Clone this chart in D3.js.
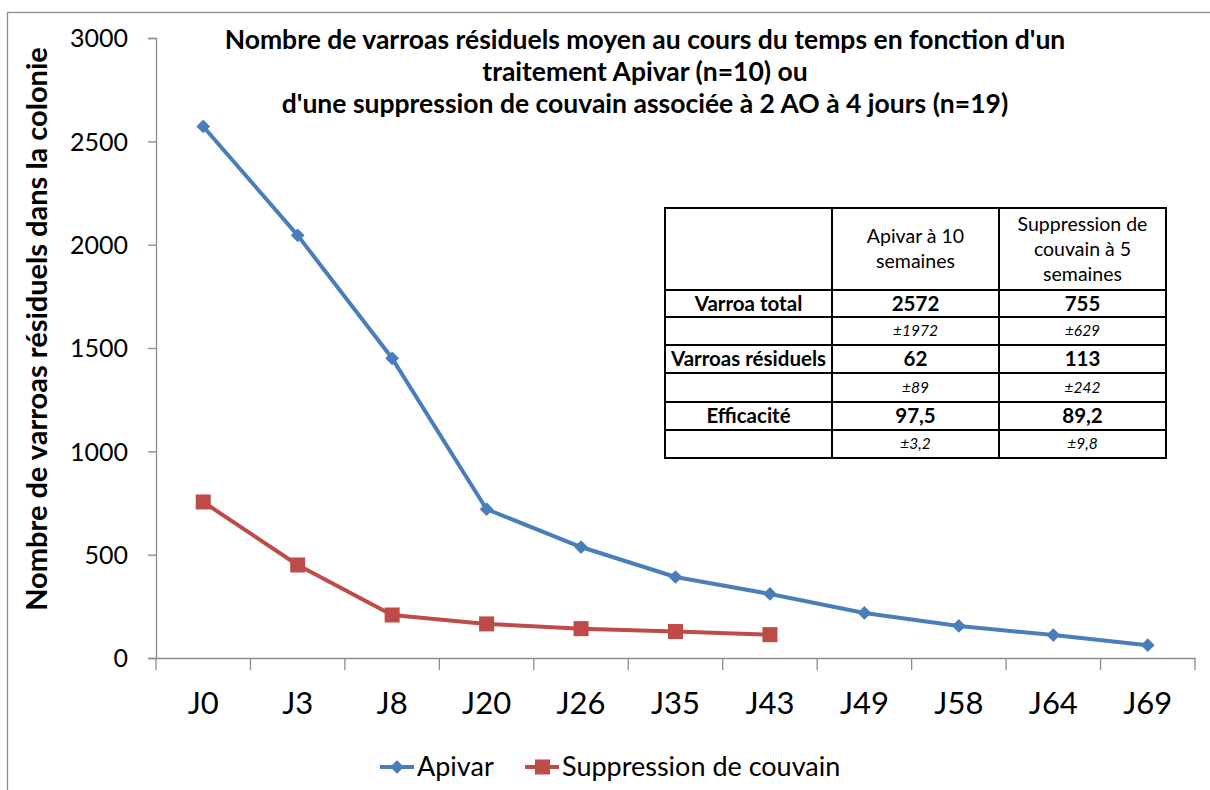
<!DOCTYPE html>
<html>
<head>
<meta charset="utf-8">
<script src="https://d3js.org/d3.v7.min.js"></script>
<style>
    body { margin: 0; background: #ffffff; }
    text { font-family: Lato, "Open Sans", sans-serif; fill: #000000; }
    .chart-title { font-size: 26.5px; font-weight: bold; }
    .axis-title { font-size: 29px; font-weight: bold; }
    .y-axis text { font-size: 25px; }
    .x-axis text { font-size: 31px; }
    .axis path, .axis line { stroke: #8c8c8c; stroke-width: 1.3px; }
    .legend text { font-size: 27px; }
    .tbl text { font-size: 19.5px; }
</style>
</head>
<body>
<div id="container"></div>
<script>
    // data
    const days = ["J0", "J3", "J8", "J20", "J26", "J35", "J43", "J49", "J58", "J64", "J69"];
    const apivar = [2572, 2045, 1450, 720, 537, 392, 310, 218, 155, 111, 62];
    const suppression = [755, 450, 208, 165, 142, 128, 113];
    const yTicks = [0, 500, 1000, 1500, 2000, 2500, 3000];

    const titleLines = [
        "Nombre de varroas résiduels moyen au cours du temps en fonction d'un",
        "traitement Apivar (n=10) ou",
        "d'une suppression de couvain associée à 2 AO à 4 jours (n=19)"
    ];

    // summary table
    const tableHeader = ["", "Apivar à 10|semaines", "Suppression de|couvain à 5|semaines"];
    const tableRows = [
        ["Varroa total", "2572", "755"],
        ["", "±1972", "±629"],
        ["Varroas résiduels", "62", "113"],
        ["", "±89", "±242"],
        ["Efficacité", "97,5", "89,2"],
        ["", "±3,2", "±9,8"]
    ];

    const W = 1210, H = 790;
    const margin = {top: 38, right: 15, bottom: 132, left: 156};
    const width = W - margin.left - margin.right;
    const height = H - margin.top - margin.bottom;

    const svg = d3.select("#container")
        .append("svg")
        .attr("width", W)
        .attr("height", H);

    // outer frame (only top and left edges are visible)
    svg.append("rect")
        .attr("x", 7.5).attr("y", 12.5)
        .attr("width", W + 10).attr("height", H + 10)
        .attr("fill", "none")
        .attr("stroke", "#8c8c8c")
        .attr("stroke-width", 1.3);

    const g = svg.append("g")
        .attr("transform", "translate(" + margin.left + "," + margin.top + ")");

    const x = d3.scaleBand()
        .domain(days)
        .range([0, width]);

    const y = d3.scaleLinear()
        .domain([0, 3000])
        .range([height, 0]);

    // y axis
    const yAxis = g.append("g")
        .attr("class", "axis y-axis")
        .call(d3.axisLeft(y).tickValues(yTicks).tickFormat(d3.format("d")).tickSize(8).tickPadding(20));
    yAxis.selectAll("text").attr("dy", "0.35em");

    // x axis with ticks at band edges
    const xAxis = g.append("g")
        .attr("class", "axis x-axis")
        .attr("transform", "translate(0," + height + ")")
        .call(d3.axisBottom(x).tickSize(0).tickPadding(34));
    xAxis.selectAll(".tick line").remove();
    xAxis.selectAll(".edge")
        .data(d3.range(days.length + 1))
        .enter()
        .append("line")
        .attr("class", "edge")
        .attr("x1", i => i * x.step())
        .attr("x2", i => i * x.step())
        .attr("y1", 0)
        .attr("y2", 12);
    xAxis.selectAll(".tick text").attr("dy", "0.71em");

    const px = (d, i) => x(days[i]) + x.bandwidth() / 2;

    const line = d3.line()
        .x(px)
        .y(d => y(d));

    // Apivar series
    g.append("path")
        .datum(apivar)
        .attr("fill", "none")
        .attr("stroke", "#4a7ebb")
        .attr("stroke-width", 4)
        .attr("stroke-linejoin", "round")
        .attr("d", line);
    g.selectAll(".diamond")
        .data(apivar)
        .enter()
        .append("path")
        .attr("class", "diamond")
        .attr("transform", (d, i) => "translate(" + px(d, i) + "," + y(d) + ")")
        .attr("d", d3.symbol(d3.symbolDiamond2, 120))
        .attr("fill", "#4a7ebb");

    // Suppression series
    g.append("path")
        .datum(suppression)
        .attr("fill", "none")
        .attr("stroke", "#be4b48")
        .attr("stroke-width", 4)
        .attr("stroke-linejoin", "round")
        .attr("d", line);
    g.selectAll(".square")
        .data(suppression)
        .enter()
        .append("rect")
        .attr("class", "square")
        .attr("x", (d, i) => px(d, i) - 7.5)
        .attr("y", d => y(d) - 7.5)
        .attr("width", 15)
        .attr("height", 15)
        .attr("fill", "#be4b48");

    // title
    svg.append("g")
        .selectAll("text")
        .data(titleLines)
        .enter()
        .append("text")
        .attr("class", "chart-title")
        .attr("x", 645)
        .attr("y", (d, i) => 49 + i * 32)
        .attr("text-anchor", "middle")
        .text(d => d);

    // y axis title
    svg.append("text")
        .attr("class", "axis-title")
        .attr("transform", "translate(47,329) rotate(-90)")
        .attr("text-anchor", "middle")
        .text("Nombre de varroas résiduels dans la colonie");

    // table
    const tbl = svg.append("g").attr("class", "tbl");
    const colX = [665, 832, 999, 1166];
    const rowY = [208, 290, 317, 345, 373, 402, 430, 458];

    tbl.append("rect")
        .attr("x", colX[0]).attr("y", rowY[0])
        .attr("width", colX[3] - colX[0]).attr("height", rowY[7] - rowY[0])
        .attr("fill", "#ffffff").attr("stroke", "#000").attr("stroke-width", 2);
    colX.slice(1, 3).forEach(cx => {
        tbl.append("line").attr("x1", cx).attr("x2", cx)
            .attr("y1", rowY[0]).attr("y2", rowY[7])
            .attr("stroke", "#000").attr("stroke-width", 2);
    });
    rowY.slice(1, 7).forEach(ry => {
        tbl.append("line").attr("x1", colX[0]).attr("x2", colX[3])
            .attr("y1", ry).attr("y2", ry)
            .attr("stroke", "#000").attr("stroke-width", 2);
    });

    tableHeader.forEach((h, c) => {
        const lines = h ? h.split("|") : [];
        const cy = (rowY[0] + rowY[1]) / 2;
        lines.forEach((t, k) => {
            tbl.append("text")
                .attr("x", (colX[c] + colX[c + 1]) / 2)
                .attr("y", cy + (k - (lines.length - 1) / 2) * 25)
                .attr("dy", "0.35em")
                .attr("text-anchor", "middle")
                .text(t);
        });
    });

    tableRows.forEach((row, r) => {
        const italic = r % 2 === 1;
        row.forEach((t, c) => {
            tbl.append("text")
                .attr("x", (colX[c] + colX[c + 1]) / 2)
                .attr("y", (rowY[r + 1] + rowY[r + 2]) / 2)
                .attr("dy", "0.35em")
                .attr("text-anchor", "middle")
                .style("font-size", italic ? "15.5px" : "20.5px")
                .style("font-weight", italic ? "normal" : "bold")
                .style("font-style", italic ? "italic" : "normal")
                .text(t);
        });
    });

    // legend
    const legend = svg.append("g").attr("class", "legend");
    const leg = [
        {name: "Apivar", color: "#4a7ebb", x0: 380, marker: "diamond"},
        {name: "Suppression de couvain", color: "#be4b48", x0: 525, marker: "square"}
    ];
    const ly = 767;
    leg.forEach(l => {
        legend.append("line")
            .attr("x1", l.x0).attr("x2", l.x0 + 34)
            .attr("y1", ly).attr("y2", ly)
            .attr("stroke", l.color).attr("stroke-width", 4);
        if (l.marker === "diamond") {
            legend.append("path")
                .attr("transform", "translate(" + (l.x0 + 17) + "," + ly + ")")
                .attr("d", d3.symbol(d3.symbolDiamond2, 120))
                .attr("fill", l.color);
        } else {
            legend.append("rect")
                .attr("x", l.x0 + 10).attr("y", ly - 7.5)
                .attr("width", 15).attr("height", 15)
                .attr("fill", l.color);
        }
        legend.append("text")
            .attr("x", l.x0 + 37)
            .attr("y", ly)
            .attr("dy", "0.35em")
            .text(l.name);
    });
</script>
</body>
</html>
